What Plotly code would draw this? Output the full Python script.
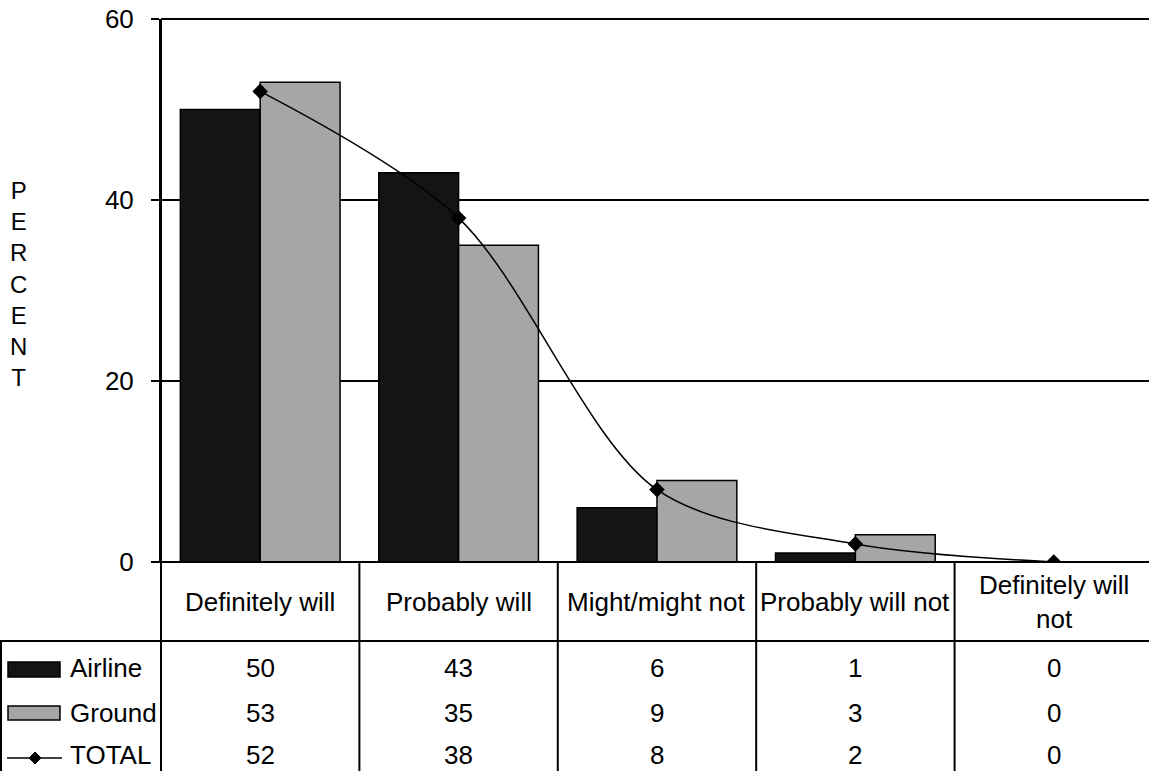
import plotly.graph_objects as go

categories = ["Definitely will", "Probably will", "Might/might not", "Probably will not", "Definitely will not"]
category_labels = ["Definitely will", "Probably will", "Might/might not", "Probably will not", "Definitely will<br>not"]
airline = [50, 43, 6, 1, 0]
ground = [53, 35, 9, 3, 0]
total = [52, 38, 8, 2, 0]
y_ticks = [0, 20, 40, 60]

W, H = 1149, 771
L, R, T, B = 161, 0, 19, 209
PW, PH = W - L - R, H - T - B
FONT = "Liberation Sans, Arial, sans-serif"
FS = 26


def px_x(px):
    return (px - L) / PW


def px_y(py):
    return (H - B - py) / PH


xs = list(range(len(categories)))
x_max = len(categories) - 0.5 - 0.02

fig = go.Figure()
fig.add_trace(go.Bar(x=xs, y=airline, name="Airline", marker=dict(color="#141414", line=dict(color="black", width=1.5))))
fig.add_trace(go.Bar(x=xs, y=ground, name="Ground", marker=dict(color="#a6a6a6", line=dict(color="black", width=1.5))))
fig.add_trace(go.Scatter(x=xs, y=total, name="TOTAL", mode="lines+markers", line=dict(color="black", width=1.5, shape="spline", smoothing=0.9),
                         marker=dict(symbol="diamond", size=12, color="black")))

shapes = []
bottom = px_y(H + 5)
# top gridline at the axis maximum
shapes.append(dict(type="line", xref="paper", yref="paper", x0=0, x1=1, y0=1, y1=1, line=dict(color="black", width=2), layer="below"))
# table horizontal line under header
shapes.append(dict(type="line", xref="paper", yref="paper", x0=px_x(0), x1=1, y0=px_y(641), y1=px_y(641), line=dict(color="black", width=2)))
# zero baseline
shapes.append(dict(type="line", xref="paper", yref="paper", x0=px_x(153), x1=1, y0=0, y1=0, line=dict(color="black", width=2)))
# vertical separators
for i in range(len(categories) - 1):
    shapes.append(dict(type="line", xref="x", yref="paper", x0=i + 0.5, x1=i + 0.5, y0=0, y1=bottom, line=dict(color="black", width=2)))
# y axis extended down
shapes.append(dict(type="line", xref="paper", yref="paper", x0=0, x1=0, y0=1, y1=bottom, line=dict(color="black", width=2)))
# left border of row header
shapes.append(dict(type="line", xref="paper", yref="paper", x0=px_x(1), x1=px_x(1), y0=px_y(641), y1=bottom, line=dict(color="black", width=2)))
# legend keys
shapes.append(dict(type="rect", xref="paper", yref="paper", x0=px_x(8), x1=px_x(60), y0=px_y(662), y1=px_y(677), fillcolor="#141414", line=dict(color="black", width=1.5)))
shapes.append(dict(type="rect", xref="paper", yref="paper", x0=px_x(8), x1=px_x(60), y0=px_y(706), y1=px_y(720), fillcolor="#a6a6a6", line=dict(color="black", width=1.5)))
shapes.append(dict(type="line", xref="paper", yref="paper", x0=px_x(7), x1=px_x(62), y0=px_y(758), y1=px_y(758), line=dict(color="black", width=1.5)))
cx, cy, d = 35, 758, 6
path = "M {} {} L {} {} L {} {} L {} {} Z".format(px_x(cx - d), px_y(cy), px_x(cx), px_y(cy - d), px_x(cx + d), px_y(cy), px_x(cx), px_y(cy + d))
shapes.append(dict(type="path", xref="paper", yref="paper", path=path, fillcolor="black", line=dict(color="black", width=1)))

annotations = []
for i, lab in enumerate(category_labels):
    annotations.append(dict(x=i, y=px_y(602), xref="x", yref="paper", text=lab, showarrow=False, xanchor="center", yanchor="middle"))
row_y = [668, 713, 755]
row_names = ["Airline", "Ground", "TOTAL"]
for name, ry, vals in zip(row_names, row_y, [airline, ground, total]):
    annotations.append(dict(x=px_x(68), y=px_y(ry), xref="paper", yref="paper", text=name, showarrow=False, xanchor="left", yanchor="middle"))
    for i, v in enumerate(vals):
        annotations.append(dict(x=i, y=px_y(ry), xref="x", yref="paper", text=str(v), showarrow=False, xanchor="center", yanchor="middle"))
annotations.append(dict(x=px_x(18), y=px_y(284), xref="paper", yref="paper", text="<br>".join(list("PERCENT")), showarrow=False,
                        xanchor="center", yanchor="middle", align="center", font=dict(size=24)))

fig.update_layout(
    width=W, height=H,
    margin=dict(l=L, r=R, t=T, b=B, pad=0),
    paper_bgcolor="white", plot_bgcolor="white",
    font=dict(family=FONT, size=FS, color="black"),
    barmode="group", bargap=0.195, bargroupgap=0,
    showlegend=False,
    shapes=shapes, annotations=annotations,
    xaxis=dict(range=[-0.5, x_max], showticklabels=False, showgrid=False, zeroline=False, showline=False, ticks=""),
    yaxis=dict(range=[0, 60], tickvals=y_ticks, ticks="outside", ticklen=8, tickwidth=2, tickcolor="black",
               showgrid=True, gridcolor="black", gridwidth=1.5, zeroline=False, showline=True, linecolor="black", linewidth=2,
               tickfont=dict(size=FS), ticklabelstandoff=12),
)

fig.write_html("out.html", config={"displayModeBar": False},
               post_script="document.body.style.margin='0';document.body.style.overflow='hidden';")
